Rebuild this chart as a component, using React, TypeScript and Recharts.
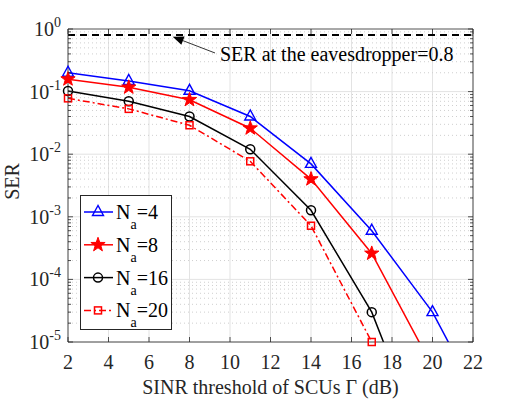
import React from 'react'
import { LineChart, Line, XAxis, YAxis, CartesianGrid, ReferenceLine, Legend } from 'recharts'

const gammaDb = [2, 5, 8, 11, 14, 17, 20, 23]
const serNa4 = [0.2, 0.148, 0.103, 0.04, 0.007, 6e-4, 3e-5, 4.4e-7]
const serNa8 = [0.158, 0.117, 0.074, 0.026, 0.004, 2.6e-4, 4e-6, null]
const serNa16 = [0.102, 0.07, 0.04, 0.012, 1.27e-3, 3e-5, 1e-7, null]
const serNa20 = [0.078, 0.053, 0.029, 0.0077, 7.2e-4, 1e-5, null, null]

const eveSer = 0.8
const xMin = 2
const xMax = 22
const yMin = 1e-5
const yMax = 1
const xTicks = [2, 4, 6, 8, 10, 12, 14, 16, 18, 20, 22]
const decades = [-5, -4, -3, -2, -1, 0]
const yTicks: number[] = []
decades.forEach(e => {
  if (e === 0) { yTicks.push(1); return }
  for (let m = 1; m <= 9; m++) yTicks.push(parseFloat((m * Math.pow(10, e)).toPrecision(3)))
})

const data = gammaDb.map((g, i) => ({
  g,
  na4: serNa4[i],
  na8: serNa8[i],
  na16: serNa16[i],
  na20: serNa20[i],
}))

// markers only where the point sits inside the axes (drawn unclipped)
const inside = (v: number | null) => (v != null && v >= yMin && v <= yMax ? v : null)
const dotData = data
  .filter(r => r.g <= xMax)
  .map(r => ({ g: r.g, na4: inside(r.na4), na8: inside(r.na8), na16: inside(r.na16), na20: inside(r.na20) }))

const FONT = '"Liberation Serif", "Times New Roman", serif'
const AX = '#262626'

const isMajor = (v: number) => Math.abs(Math.log10(v) - Math.round(Math.log10(v))) < 1e-6

const Tri = ({ cx, cy, color }: any) => (
  <polygon points={`${cx},${cy - 6.5} ${cx - 5.5},${cy + 3.5} ${cx + 5.5},${cy + 3.5}`} fill="none" stroke={color} strokeWidth={1.4} />
)
const Star = ({ cx, cy, color }: any) => {
  const pts: string[] = []
  for (let k = 0; k < 10; k++) {
    const r = k % 2 === 0 ? 7.5 : 3
    const a = -Math.PI / 2 + (k * Math.PI) / 5
    pts.push(`${cx + r * Math.cos(a)},${cy + r * Math.sin(a)}`)
  }
  return <polygon points={pts.join(' ')} fill={color} stroke={color} strokeWidth={1} />
}
const Circ = ({ cx, cy, color }: any) => (
  <circle cx={cx} cy={cy} r={4.5} fill="none" stroke={color} strokeWidth={1.5} />
)
const Sq = ({ cx, cy, color }: any) => (
  <rect x={cx - 3.5} y={cy - 3.5} width={7} height={7} fill="none" stroke={color} strokeWidth={1.5} />
)

const series = [
  { key: 'na4', n: '4', color: '#0000ff', Marker: Tri, dash: undefined },
  { key: 'na8', n: '8', color: '#ff0000', Marker: Star, dash: undefined },
  { key: 'na16', n: '16', color: '#000000', Marker: Circ, dash: undefined },
  { key: 'na20', n: '20', color: '#ff0000', Marker: Sq, dash: '7 3 2 3' },
]

const makeDot = (Marker: any, color: string) => (p: any) => {
  if (p.cx == null || p.cy == null || p.value == null) return <g key={p.key} />
  return <g key={p.key}><Marker cx={p.cx} cy={p.cy} color={color} /></g>
}

const LeftTick = ({ x, y, payload }: any) => {
  const v = payload.value
  const major = isMajor(v)
  const e = Math.round(Math.log10(v))
  return (
    <g>
      <line x1={x} x2={x + (major ? 5 : 3)} y1={y} y2={y} stroke={AX} strokeWidth={0.8} />
      {major && (
        <text x={x - 7} y={y + 7} textAnchor="end" fontFamily={FONT} fontSize={20} fill="#262626">
          10<tspan dy={-9} fontSize={14}>{String(e)}</tspan>
        </text>
      )}
    </g>
  )
}
const RightTick = ({ x, y, payload }: any) => {
  const major = isMajor(payload.value)
  return <line x1={x} x2={x - (major ? 5 : 3)} y1={y} y2={y} stroke={AX} strokeWidth={0.8} />
}
const BottomTick = ({ x, y, payload }: any) => (
  <g>
    <line x1={x} x2={x} y1={y} y2={y - 5} stroke={AX} strokeWidth={0.8} />
    <text x={x} y={y + 27} textAnchor="middle" fontFamily={FONT} fontSize={20} fill="#262626">{payload.value}</text>
  </g>
)
const TopTick = ({ x, y }: any) => (
  <line x1={x} x2={x} y1={y} y2={y + 5} stroke={AX} strokeWidth={0.8} />
)

const ArrowNote = (p: any) => {
  const { x1, y1, x2, y2 } = p
  if (x1 == null) return <g />
  const ang = Math.atan2(y2 - y1, x2 - x1)
  const L = 11, W = 4.5
  const bx = x2 - L * Math.cos(ang), by = y2 - L * Math.sin(ang)
  const hx = -Math.sin(ang) * W, hy = Math.cos(ang) * W
  return (
    <g>
      <line x1={x1} y1={y1} x2={bx} y2={by} stroke="#000" strokeWidth={0.8} />
      <polygon points={`${x2},${y2} ${bx + hx},${by + hy} ${bx - hx},${by - hy}`} fill="#000" />
      <text x={x1 + 5} y={y1 + 8} fontFamily={FONT} fontSize={20} fill="#000">SER at the eavesdropper=0.8</text>
    </g>
  )
}

const LegendBox = () => (
  <div style={{ border: '1px solid #262626', background: '#fff', width: 92, height: 135, boxSizing: 'border-box' }}>
    <svg width={90} height={133}>
      {series.map((s, i) => {
        const cy = 16 + i * 32.8
        return (
          <g key={s.key}>
            <line x1={3} x2={32} y1={cy} y2={cy} stroke={s.color} strokeWidth={1.5} strokeDasharray={s.dash} />
            <s.Marker cx={17} cy={cy} color={s.color} />
            <text x={35} y={cy + 7} fontFamily={FONT} fontSize={20} fill="#000">
              N<tspan dy={10} fontSize={14}>a</tspan><tspan dy={-10}>={s.n}</tspan>
            </text>
          </g>
        )
      })}
    </svg>
  </div>
)

export default function App() {
  return (
    <div style={{ position: 'absolute', left: 0, top: 0, width: 531, height: 399, background: '#fff' }}>
      <LineChart width={531} height={399} data={data} margin={{ top: 0, right: 0, bottom: 0, left: 0 }}>
        <CartesianGrid horizontal={false} stroke="#e3e3e3" strokeWidth={1} />
        <XAxis
          dataKey="g" type="number" domain={[xMin, xMax]} ticks={xTicks} allowDataOverflow
          height={57} tickSize={0} tickMargin={0} tickLine={false} interval={0}
          axisLine={{ stroke: AX, strokeWidth: 0.8 }} tick={<BottomTick />}
          label={(p: any) => {
            const vb = p.viewBox
            return <text x={vb.x + vb.width / 2} y={vb.y + 52} textAnchor="middle" fontFamily={FONT} fontSize={20} fill="#262626">SINR threshold of SCUs Γ (dB)</text>
          }}
        />
        <XAxis
          xAxisId="t" orientation="top" dataKey="g" type="number" domain={[xMin, xMax]} ticks={xTicks} allowDataOverflow
          height={29} tickSize={0} tickMargin={0} tickLine={false} interval={0}
          axisLine={{ stroke: AX, strokeWidth: 0.8 }} tick={<TopTick />}
        />
        <XAxis xAxisId="d" dataKey="g" type="number" domain={[xMin, xMax]} hide />
        <YAxis
          scale="log" type="number" domain={[yMin, yMax]} ticks={yTicks} allowDataOverflow
          width={68} tickSize={0} tickMargin={0} tickLine={false} interval={0}
          axisLine={{ stroke: AX, strokeWidth: 0.8 }} tick={<LeftTick />}
          label={(p: any) => {
            const vb = p.viewBox
            const cx = vb.x + 19, cy = vb.y + vb.height / 2 - 4
            return <text x={cx} y={cy} transform={`rotate(-90, ${cx}, ${cy})`} textAnchor="middle" fontFamily={FONT} fontSize={20} fill="#262626">SER</text>
          }}
        />
        <YAxis
          yAxisId="r" orientation="right" scale="log" type="number" domain={[yMin, yMax]} ticks={yTicks} allowDataOverflow
          width={58} tickSize={0} tickMargin={0} tickLine={false} interval={0}
          axisLine={{ stroke: AX, strokeWidth: 0.8 }} tick={<RightTick />}
        />
        <YAxis yAxisId="d" scale="log" type="number" domain={[yMin, yMax]} hide />
        {yTicks.filter(v => v < 1).map(v => (
          <ReferenceLine key={v} y={v} stroke={isMajor(v) ? '#e3e3e3' : '#cfcfcf'} strokeWidth={1}
            strokeDasharray={isMajor(v) ? undefined : '1 3'} />
        ))}
        <ReferenceLine y={eveSer} stroke="#000" strokeWidth={2} strokeDasharray="7 5" />
        <ReferenceLine segment={[{ x: 9.26, y: 0.414 }, { x: 7.17, y: 0.753 }]} shape={ArrowNote} />
        {series.map(s => (
          <Line
            key={s.key} dataKey={s.key} type="linear" stroke={s.color} strokeWidth={1.5}
            strokeDasharray={s.dash} dot={false} activeDot={false}
            isAnimationActive={false} connectNulls={false}
          />
        ))}
        {series.map(s => (
          <Line
            key={s.key + '-m'} data={dotData} xAxisId="d" yAxisId="d" dataKey={s.key} type="linear"
            stroke="none" dot={makeDot(s.Marker, s.color)} activeDot={false}
            isAnimationActive={false} legendType="none"
          />
        ))}
        <Legend
          layout="horizontal" align="center" verticalAlign="middle"
          wrapperStyle={{ left: 80, top: 195, width: 92, height: 135 }}
          content={() => <LegendBox />}
        />
      </LineChart>
    </div>
  )
}
